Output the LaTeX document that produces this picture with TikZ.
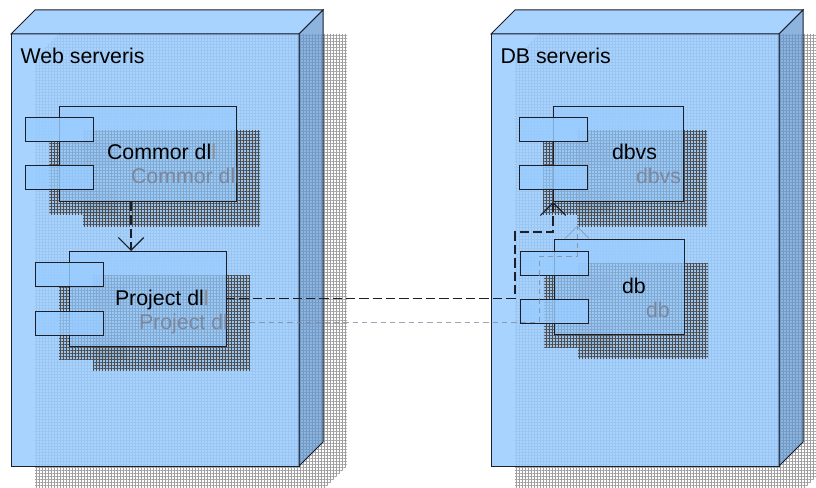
\documentclass[tikz,border=0pt]{standalone}
\usepackage{fontspec}
\setmainfont{Liberation Sans}
\usetikzlibrary{arrows.meta,patterns.meta,calc}

\definecolor{facefill}{RGB}{153,204,255}
\definecolor{sidefill}{RGB}{98,152,212}
\definecolor{edge}{RGB}{28,30,40}
\definecolor{ghostink}{RGB}{125,135,155}

\pgfdeclarelayer{nodeshadow}
\pgfdeclarelayer{nodeface}
\pgfdeclarelayer{compshadow}
\pgfsetlayers{nodeshadow,nodeface,compshadow,main}

\tikzset{
  px/.style={x=0.75pt,y=-0.75pt},
  server/.style={rectangle, inner sep=0pt, outer sep=0pt,
    minimum width=216pt, minimum height=324pt,
    fill=facefill, fill opacity=0.85, draw=edge, draw opacity=1, line width=0.75pt},
  topface/.style={fill=facefill, fill opacity=0.85, draw=edge, line width=0.75pt, line join=miter},
  sideface/.style={fill=sidefill, fill opacity=0.72, draw=edge, line width=0.75pt, line join=miter},
  comp/.style={rectangle, inner sep=0pt, outer sep=0pt, minimum height=71.25pt,
    fill=facefill, fill opacity=0.72, draw=edge, draw opacity=1, line width=0.75pt},
  port/.style={rectangle, inner sep=0pt, outer sep=0pt,
    minimum width=51pt, minimum height=18pt,
    fill=facefill, fill opacity=0.8, draw=edge, draw opacity=1, line width=0.75pt},
  bigshadow/.style={pattern={Hatch[distance=2.25pt,line width=0.55pt]}, pattern color=black!38},
  compshade/.style={fill=black, fill opacity=0.07},
  comphatch/.style={pattern={Hatch[distance=2.25pt,line width=0.55pt]}, pattern color=black!70, fill opacity=0.4},
  lbl/.style={inner sep=0pt, outer sep=0pt, anchor=base west, font=\fontsize{16pt}{18pt}\selectfont, text=black},
  ghostlbl/.style={lbl, text=ghostink},
  dep/.style={draw=edge, line width=0.95pt, dash pattern=on 7pt off 3pt,
    -{Straight Barb[length=9.5pt,width=19pt,line width=0.9pt]}},
  ghostdep/.style={draw=ghostink, draw opacity=0.75, line width=0.55pt, dash pattern=on 4pt off 3pt,
    -{Straight Barb[length=9pt,width=18pt,line width=0.5pt]}},
}

\begin{document}
\begin{tikzpicture}[px]
\useasboundingbox (0,0) rectangle (816,488);
\begin{pgfonlayer}{nodeshadow}
  \fill[white] (0,0) rectangle (816,488);
\end{pgfonlayer}

% ---------- the two execution nodes (3D boxes) ----------
\begin{pgfonlayer}{nodeface}
  \node[server] (web) at (155,250) {};
  \node[server] (dbs) at (635,250) {};
  \foreach \n in {web,dbs}{
    \path[topface] (\n.north west) -- ++(24,-24) -- ++(288,0) -- (\n.north east) -- cycle;
    \path[sideface] (\n.north east) -- ++(24,-24) -- ++(0,432) -- (\n.south east) -- cycle;
  }
  \node[lbl] (webname) at (20.5,64) {Web serveris};
  \node[lbl] (dbsname) at (500.5,64) {DB serveris};
\end{pgfonlayer}

\begin{pgfonlayer}{nodeshadow}
  \foreach \n in {web,dbs}{
    \path[bigshadow] ([shift={(24,24)}]\n.north west) -- ++(24,-24) -- ++(288,0)
      -- ++(0,432) -- ++(-24,24) -- ++(-288,0) -- cycle;
  }
\end{pgfonlayer}

% ---------- components ----------
\node[comp, minimum width=132.75pt] (commor)  at (147.5,154.5) {};
\node[comp, minimum width=117.75pt] (project) at (147.5,298.5) {};
\node[comp, minimum width=97.5pt]   (dbvs)    at (618,154.5) {};
\node[comp, minimum width=97.5pt]   (db)      at (619,286.5) {};

\foreach \c/\a/\b in {commor/23/71, project/23/72, dbvs/23/71, db/24/72}{
  \node[port] (\c-p1) at ($(\c.north west)+(0,\a)$) {};
  \node[port] (\c-p2) at ($(\c.north west)+(0,\b)$) {};
}

% drop shadows of the components
\begin{pgfonlayer}{compshadow}
  \foreach \c in {commor,project,dbvs,db,commor-p1,commor-p2,project-p1,project-p2,dbvs-p1,dbvs-p2,db-p1,db-p2}{
    \path[compshade] ([shift={(24,24)}]\c.north west) rectangle ([shift={(24,24)}]\c.south east);
  }
  \foreach \c in {commor,project,dbvs,db}{
    \path[comphatch] ([shift={(24,24)}]\c.north west) rectangle ([shift={(24,24)}]\c.south east);
    \path[comphatch] ([shift={(24,24)}]\c-p1.north west) rectangle ([shift={(24,24)}]\c-p2.south east);
  }
\end{pgfonlayer}

% shadow copies of the component names
\foreach \c/\x/\y/\t in {commor/131/184/Commor dll, project/139/329/Project dll, dbvs/636/184/dbvs, db/646/317/db}{
  \begin{scope}
    \clip (\c.north west) rectangle (\c.south east);
    \node[ghostlbl] (\c-ghost) at (\x,\y) {\t};
  \end{scope}
}

% component names
\node[lbl] (commor-name)  at (107,160) {Commor dl{\color{black!45}l}};
\node[lbl] (project-name) at (115,305) {Project dl{\color{black!45}l}};
\node[lbl] (dbvs-name)    at (612,160) {dbvs};
\node[lbl] (db-name)      at (622,293) {db};

% ---------- dependencies ----------
\coordinate (dep1) at ($(commor.south west)+(72,0)$);
\draw[dep] (dep1) -- (dep1 |- project.north);

\coordinate (bend) at (515,232);
\draw[ghostdep] ([shift={(24,24)}]project.east) -| ([shift={(24,24)}]bend) -| ([shift={(24,24)}]dbvs.south west);
\draw[dep] (project.east) -| (bend) -| (dbvs.south west);
\end{tikzpicture}
\end{document}
